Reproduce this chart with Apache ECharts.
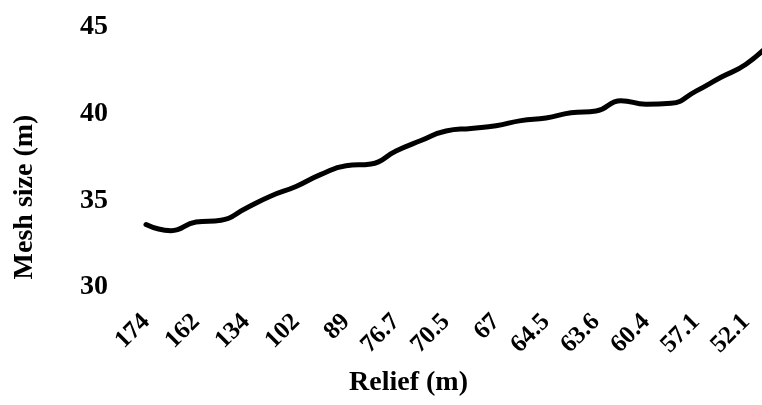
<!DOCTYPE html>
<html>
<head>
<meta charset="utf-8">
<script src="https://cdn.jsdelivr.net/npm/echarts@6/dist/echarts.min.js"></script>
<style>
  html, body { margin: 0; padding: 0; background: #fff; }
  #chart { width: 762px; height: 405px; }
</style>
</head>
<body>
<div id="chart"></div>
<script>
// Relief classes shown on the horizontal axis (one label per whole step)
const reliefLabels = ['174', '162', '134', '102', '89', '76.7', '70.5', '67', '64.5', '63.6', '60.4', '57.1', '52.1'];

// Mesh size sampled every half step along the relief axis
const meshSize = [
  33.6, 33.25, 33.75, 33.85, 34.55, 35.25, 35.8, 36.5, 37.0, 37.1,
  37.85, 38.45, 39.0, 39.15, 39.3, 39.6, 39.75, 40.05, 40.15, 40.75,
  40.55, 40.6, 41.3, 42.1, 42.85, 44.1
];

// Y-axis tick labels
const meshTicks = [30, 35, 40, 45];

const seriesData = meshSize.map((v, i) => [i / 2, v]);

const font = 'Liberation Serif, Times New Roman, serif';
const chart = echarts.init(document.getElementById('chart'));

chart.setOption({
  animation: false,
  backgroundColor: '#ffffff',
  grid: {
    left: 146, right: -9, top: 27, bottom: 118,
    containLabel: false,
    outerBoundsMode: 'none'
  },
  xAxis: {
    type: 'value',
    min: 0,
    max: (meshSize.length - 1) / 2,
    interval: 1,
    name: 'Relief (m)',
    nameLocation: 'middle',
    nameGap: 82,
    nameTextStyle: { fontFamily: font, fontSize: 28, fontWeight: 'bold', color: '#000', padding: [0, 100, 0, 0] },
    axisLine: { show: false },
    axisTick: { show: false },
    splitLine: { show: false },
    axisLabel: {
      rotate: 45,
      margin: 31,
      fontFamily: font,
      fontSize: 25,
      fontWeight: 'bold',
      color: '#000',
      showMaxLabel: false,
      formatter: v => (Number.isInteger(v) && reliefLabels[v] !== undefined) ? reliefLabels[v] : ''
    }
  },
  yAxis: {
    type: 'value',
    min: meshTicks[0],
    max: meshTicks[meshTicks.length - 1],
    interval: 5,
    name: 'Mesh size (m)',
    nameLocation: 'middle',
    nameGap: 107,
    nameTextStyle: { fontFamily: font, fontSize: 28, fontWeight: 'bold', color: '#000', padding: [0, 80, 0, 0] },
    axisLine: { show: false },
    axisTick: { show: false },
    splitLine: { show: false },
    axisLabel: {
      margin: 38,
      fontFamily: font,
      fontSize: 28,
      fontWeight: 'bold',
      color: '#000'
    }
  },
  series: [{
    type: 'line',
    data: seriesData,
    smooth: 0.5,
    showSymbol: false,
    clip: false,
    lineStyle: { color: '#000', width: 5, cap: 'round', join: 'round' }
  }]
});
</script>
</body>
</html>
